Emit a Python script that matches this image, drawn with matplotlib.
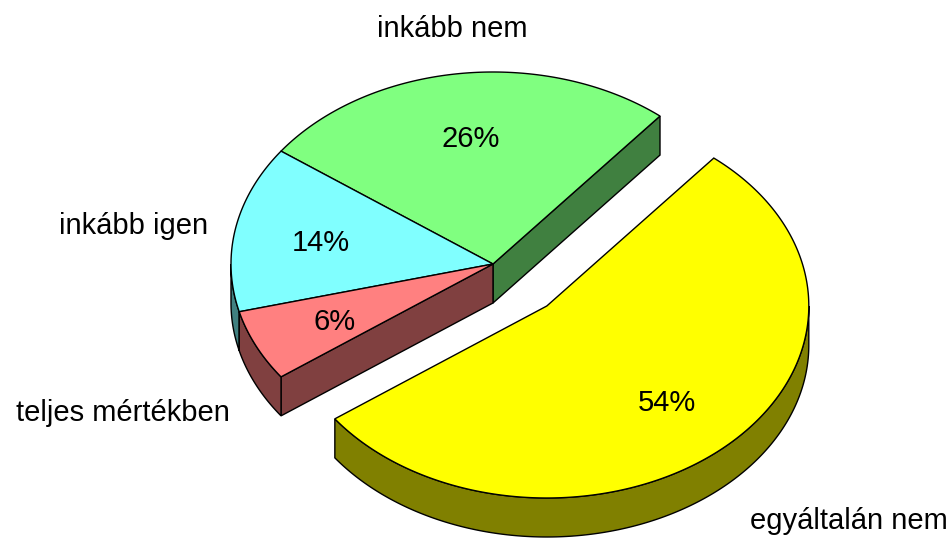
import numpy as np
import matplotlib.pyplot as plt
import matplotlib
from matplotlib.patches import Polygon

matplotlib.rc('font', family='Liberation Sans')

# data (counterclockwise starting from the exploded slice)
labels = ['egyáltalán nem', 'inkább nem', 'inkább igen', 'teljes mértékben']
values = [54, 26, 14, 6]
top_colors = ['#FFFF00', '#80FF80', '#80FFFF', '#FF8080']
side_colors = ['#808000', '#408040', '#408080', '#804040']
explode = [0.3, 0, 0, 0]

# 3d pie layout in pixel units
cx, cy = 493, 264
rx, ry = 262, 192
depth = 39
start = -144.0
fs = 21

# where the category labels sit (x, baseline, alignment)
label_pos = [(948, 529, 'right'), (452, 37, 'center'),
             (208, 234, 'right'), (230, 421, 'right')]

fig = plt.figure(figsize=(9.52, 5.38), dpi=100)
ax = fig.add_axes([0, 0, 1, 1])
ax.set_xlim(0, 952)
ax.set_ylim(538, 0)
ax.axis('off')


def pt(ox, oy, a, r=1.0, dz=0):
    t = np.radians(a)
    return ox + r * rx * np.cos(t), oy - r * ry * np.sin(t) + dz


def arc(ox, oy, a1, a2, dz=0):
    t = np.linspace(a1, a2, max(int(abs(a2 - a1)) * 2, 2))
    x, y = pt(ox, oy, t, dz=dz)
    return np.column_stack([x, y])


total = float(sum(values))
spans = [360 * v / total for v in values]
angles = []
a = start
for s in spans:
    angles.append((a, a + s))
    a += s

origins = []
for (a1, a2), e in zip(angles, explode):
    mid = (a1 + a2) / 2
    origins.append(pt(cx, cy, mid, r=e))

n = len(values)
# draw non-exploded slices first, exploded (front) ones last
order = sorted(range(n), key=lambda i: explode[i])

for i in order:
    a1, a2 = angles[i]
    ox, oy = origins[i]
    ec = dict(edgecolor='black', linewidth=1)

    # radial walls facing the viewer, only where the pie is split
    prev_i = (i - 1) % n
    next_i = (i + 1) % n
    walls = []
    if np.cos(np.radians(a1)) > 0 and (explode[i] or explode[prev_i]):
        walls.append(a1)
    if np.cos(np.radians(a2)) < 0 and (explode[i] or explode[next_i]):
        walls.append(a2)
    for w in walls:
        px, py = pt(ox, oy, w)
        poly = [(ox, oy), (px, py), (px, py + depth), (ox, oy + depth)]
        ax.add_patch(Polygon(poly, closed=True, facecolor=side_colors[i], **ec))

    # outer rim facing the viewer
    for lo, hi in [(-180, 0), (180, 360), (-540, -360)]:
        b1, b2 = max(a1, lo), min(a2, hi)
        if b2 > b1:
            top = arc(ox, oy, b1, b2)
            bot = arc(ox, oy, b1, b2, dz=depth)[::-1]
            ax.add_patch(Polygon(np.vstack([top, bot]), closed=True,
                                 facecolor=side_colors[i], **ec))

    # top face
    face = np.vstack([[(ox, oy)], arc(ox, oy, a1, a2)])
    ax.add_patch(Polygon(face, closed=True, facecolor=top_colors[i], **ec))

# percentage labels
for i in range(n):
    a1, a2 = angles[i]
    ox, oy = origins[i]
    lx, ly = pt(ox, oy, (a1 + a2) / 2, r=0.67)
    ax.text(lx, ly + 11, f'{values[i]}%', ha='center', va='baseline', fontsize=fs)

# category labels
for lab, (x, y, ha) in zip(labels, label_pos):
    ax.text(x, y, lab, ha=ha, va='baseline', fontsize=fs)

fig.savefig('out.png', dpi=100)
